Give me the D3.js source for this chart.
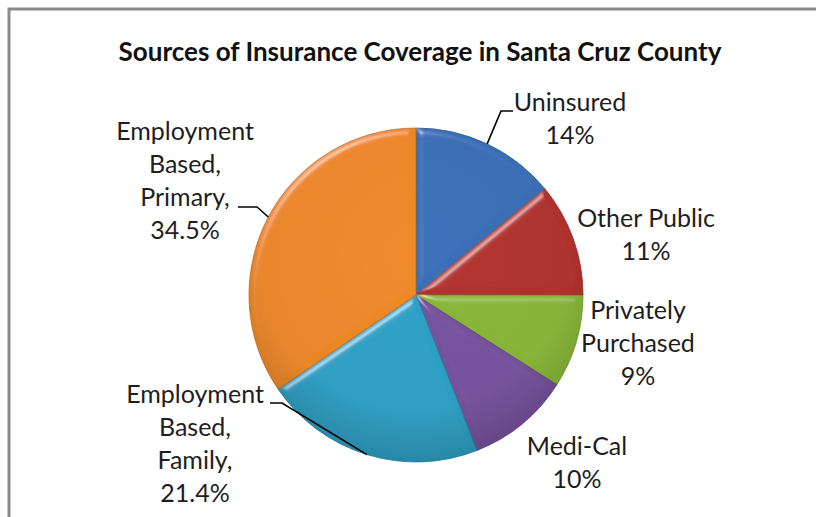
<!DOCTYPE html>
<html>
<head>
<meta charset="utf-8">
<script src="https://cdn.jsdelivr.net/npm/d3@7/dist/d3.min.js"></script>
<style>
  html, body { margin: 0; padding: 0; background: #fff; }
  svg { display: block; }
  text { font-family: Lato, "Open Sans", sans-serif; fill: #1e1e1e; }
</style>
</head>
<body>
<svg id="chart" width="816" height="517"></svg>
<script>
// Insurance coverage shares, clockwise from 12 o'clock
const categories = ["Uninsured", "Other Public", "Privately Purchased", "Medi-Cal",
                    "Employment Based, Family", "Employment Based, Primary"];
const shares = [14, 11, 9, 10, 21.4, 34.5];
const labelLines = [
  ["Uninsured"],
  ["Other Public"],
  ["Privately", "Purchased"],
  ["Medi-Cal"],
  ["Employment", "Based,", "Family,"],
  ["Employment", "Based,", "Primary,"]
];
const sliceColors = ["#3a70b9", "#b3302d", "#8ab838", "#78529f", "#2ea2c7", "#f08a28"];
const titleText = "Sources of Insurance Coverage in Santa Cruz County";

// Layout
const W = 816, H = 517;
const cx = 416, cy = 295, R = 167;
const lineGap = 33;
// label anchor (centre x, first baseline) relative to the pie centre
const labelPos = [[154, -184], [230, -68], [222, 24], [161, 160], [-221, 108], [-231, -155]];
// leader elbows / ends relative to pie centre (null = no leader)
const leaders = [[[85, -184], [97, -184]], null, null, null,
                 [[-134, 108], [-146, 108]], [[-159, -88], [-178, -88]]];

const svg = d3.select("#chart");
const defs = svg.append("defs");

// bevel lighting for the slices
const bevel = defs.append("filter").attr("id", "bevel")
  .attr("x", "-10%").attr("y", "-10%").attr("width", "120%").attr("height", "120%");
bevel.append("feGaussianBlur").attr("in", "SourceAlpha").attr("stdDeviation", 3.5).attr("result", "blur");
const spec = bevel.append("feSpecularLighting").attr("in", "blur")
  .attr("surfaceScale", 4).attr("specularConstant", 0.5).attr("specularExponent", 40)
  .attr("lighting-color", "#ffffff").attr("result", "spec");
spec.append("feDistantLight").attr("azimuth", 235).attr("elevation", 40);
bevel.append("feComposite").attr("in", "spec").attr("in2", "SourceAlpha")
  .attr("operator", "in").attr("result", "specIn");
bevel.append("feComposite").attr("in", "SourceGraphic").attr("in2", "specIn")
  .attr("operator", "arithmetic").attr("k1", 0).attr("k2", 1).attr("k3", 0.7).attr("k4", 0);

// soft shading toward the lower rim
const shade = defs.append("radialGradient").attr("id", "shade")
  .attr("gradientUnits", "userSpaceOnUse")
  .attr("cx", cx).attr("cy", cy - 40).attr("r", R + 40);
shade.append("stop").attr("offset", "0%").attr("stop-color", "#000").attr("stop-opacity", 0);
shade.append("stop").attr("offset", "75%").attr("stop-color", "#000").attr("stop-opacity", 0.03);
shade.append("stop").attr("offset", "100%").attr("stop-color", "#000").attr("stop-opacity", 0.16);

// frame
svg.append("rect")
  .attr("x", 9).attr("y", 9).attr("width", W + 20).attr("height", H + 20)
  .attr("fill", "none").attr("stroke", "#8a8a8a").attr("stroke-width", 3);

// title
svg.append("text")
  .attr("x", cx + 4).attr("y", 61)
  .attr("text-anchor", "middle")
  .style("font-size", "26px").style("font-weight", "bold").style("fill", "#111")
  .text(titleText);

const pie = d3.pie().sort(null).value(d => d)(shares);
const arc = d3.arc().innerRadius(0).outerRadius(R);

const g = svg.append("g").attr("transform", `translate(${cx},${cy})`);

g.selectAll("path.slice")
  .data(pie)
  .join("path")
  .attr("class", "slice")
  .attr("d", arc)
  .attr("fill", (d, i) => sliceColors[i])
  .attr("stroke", (d, i) => d3.color(sliceColors[i]).darker(0.6))
  .attr("stroke-width", 0.8)
  .attr("filter", "url(#bevel)");

g.append("circle").attr("r", R).attr("fill", "url(#shade)")
  .attr("transform", `translate(${-cx},${-cy})`).attr("cx", cx).attr("cy", cy);

// leader lines from each slice's mid-angle on the rim
const rim = d => {
  const a = (d.startAngle + d.endAngle) / 2;
  return [R * Math.sin(a), -R * Math.cos(a)];
};
const lineGen = d3.line();
pie.forEach((d, i) => {
  if (!leaders[i]) return;
  g.append("path")
    .attr("d", lineGen([rim(d), leaders[i][0], leaders[i][1]]))
    .attr("fill", "none").attr("stroke", "#000").attr("stroke-width", 1.6);
});

// labels
const fmt = v => `${v}%`;
pie.forEach((d, i) => {
  const lines = labelLines[i].concat([fmt(shares[i])]);
  const t = g.append("text")
    .attr("text-anchor", "middle")
    .style("font-size", "25px");
  lines.forEach((ln, k) => {
    t.append("tspan")
      .attr("x", labelPos[i][0])
      .attr("y", labelPos[i][1] + k * lineGap)
      .text(ln);
  });
});
</script>
</body>
</html>
